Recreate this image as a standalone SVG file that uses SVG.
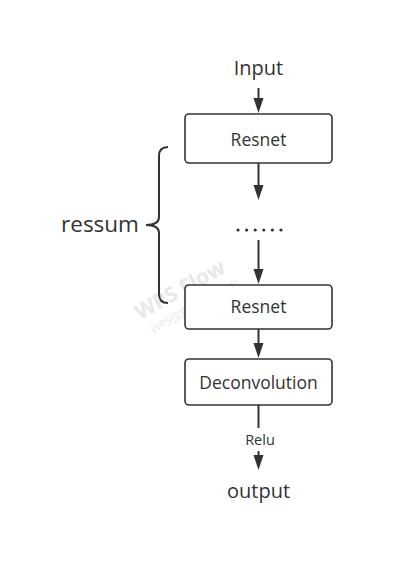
<svg xmlns="http://www.w3.org/2000/svg" width="400" height="574" viewBox="0 0 400 574">
<defs>
<style>
.t{font-family:"Open Sans","Noto Sans","DejaVu Sans",sans-serif;fill:#333;text-anchor:middle}
.box{fill:#fff;stroke:#333;stroke-width:1.6}
.ln{stroke:#333;stroke-width:2;fill:none}
.ah{fill:#333}
.wm{font-family:"Open Sans","Noto Sans CJK SC",sans-serif;fill:#e8e8e8}
</style>
</defs>
<rect width="400" height="574" fill="#fff"/>
<g id="watermark">
<text class="wm" transform="translate(140,320) rotate(-29)" font-size="21" font-weight="bold">WPS Flow</text>
<text class="wm" transform="translate(153,334) rotate(-29)" font-size="11">WPS仅提供作图能力</text>
</g>
<g id="connectors">
<line class="ln" x1="258.5" y1="88" x2="258.5" y2="100"/>
<polygon class="ah" points="253.5,98 263.5,98 258.5,113"/>
<line class="ln" x1="258.5" y1="163" x2="258.5" y2="187"/>
<polygon class="ah" points="253.5,185 263.5,185 258.5,200"/>
<line class="ln" x1="258.5" y1="240" x2="258.5" y2="271"/>
<polygon class="ah" points="253.5,269 263.5,269 258.5,284"/>
<line class="ln" x1="258.5" y1="329" x2="258.5" y2="345"/>
<polygon class="ah" points="253.5,343 263.5,343 258.5,358"/>
<line class="ln" x1="258.5" y1="405" x2="258.5" y2="428"/>
<text class="t" x="260" y="445" font-size="14.5">Relu</text>
<line class="ln" x1="258.5" y1="451" x2="258.5" y2="457"/>
<polygon class="ah" points="253.5,455 263.5,455 258.5,470"/>
<path class="ln" d="M168,147 Q159,147 159,156 L159,217 Q159,225 146,225 Q159,225 159,233 L159,294 Q159,303 168,303"/>
</g>
<g id="input"><text class="t" x="258.5" y="75" font-size="20">Input</text></g>
<g id="resnet1">
<rect class="box" x="185" y="114" width="147" height="49" rx="4"/>
<text class="t" x="258.5" y="146" font-size="17.5">Resnet</text>
</g>
<g id="dots" fill="#333">
<circle cx="238" cy="230" r="1.6"/><circle cx="246.6" cy="230" r="1.6"/><circle cx="255.2" cy="230" r="1.6"/><circle cx="263.8" cy="230" r="1.6"/><circle cx="272.4" cy="230" r="1.6"/><circle cx="281" cy="230" r="1.6"/>
</g>
<g id="ressum"><text class="t" x="100" y="232" font-size="22.5">ressum</text></g>
<g id="resnet2">
<rect class="box" x="185" y="285" width="147" height="44" rx="4"/>
<text class="t" x="258.5" y="313" font-size="17.5">Resnet</text>
</g>
<g id="deconvolution">
<rect class="box" x="185" y="359" width="147" height="46" rx="4"/>
<text class="t" x="258.5" y="389" font-size="17.5">Deconvolution</text>
</g>
<g id="output"><text class="t" x="258.5" y="498" font-size="20">output</text></g>
</svg>
